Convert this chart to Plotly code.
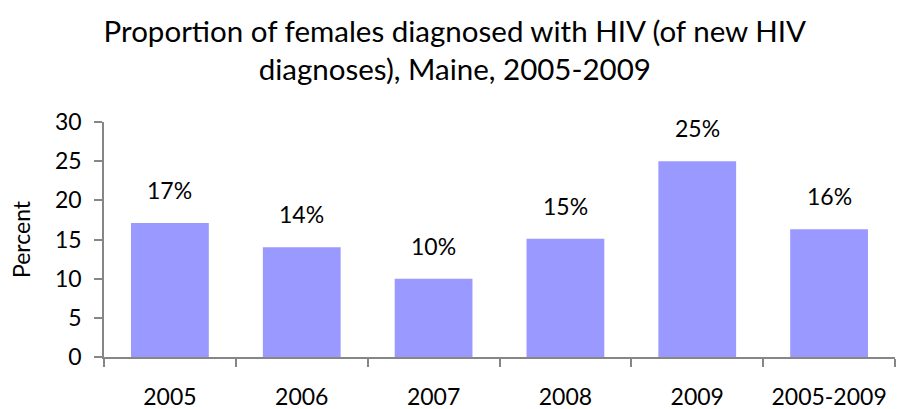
import plotly.graph_objects as go

categories = ["2005", "2006", "2007", "2008", "2009", "2005-2009"]
values = [17.1, 14.0, 10.0, 15.1, 25.0, 16.3]
labels = ["17%", "14%", "10%", "15%", "25%", "16%"]
y_ticks = [0, 5, 10, 15, 20, 25, 30]

FONT = "Lato, Open Sans, sans-serif"

fig = go.Figure()
fig.add_trace(go.Bar(x=categories, y=values, marker=dict(color="#9999FF", line=dict(width=0)),
                     showlegend=False, hoverinfo="x+y"))

for i, (v, t) in enumerate(zip(values, labels)):
    fig.add_annotation(x=i, y=v, xref="x", yref="y", text=t, showarrow=False, yshift=33,
                       font=dict(family=FONT, size=23, color="#000000"))

fig.update_layout(
    width=897, height=409,
    margin=dict(l=104, r=2, t=122, b=52, autoexpand=False),
    paper_bgcolor="white", plot_bgcolor="white",
    bargap=0.41,
    title=dict(text="Proportion of females diagnosed with HIV (of new HIV<br>diagnoses), Maine, 2005-2009",
               x=0.507, xanchor="center", y=0.897, yanchor="middle",
               font=dict(family=FONT, size=29.5, color="#000000")),
    xaxis=dict(type="category", showline=True, linecolor="#868686", linewidth=1.5, ticks="outside",
               tickson="boundaries", ticklen=8, tickcolor="#868686", tickwidth=1.5,
               tickfont=dict(family=FONT, size=23, color="#000000"), showgrid=False,
               tickangle=0, ticklabelstandoff=19, automargin=False),
    yaxis=dict(range=[0, 30], tickvals=y_ticks, showline=True, linecolor="#868686", linewidth=1.5,
               ticks="outside", ticklen=8, tickcolor="#868686", tickwidth=1.5,
               tickfont=dict(family=FONT, size=23, color="#000000"), showgrid=False,
               zeroline=False, ticklabelstandoff=8, automargin=False,
               title=dict(text="Percent", font=dict(family=FONT, size=23, color="#000000"), standoff=18)),
)

fig.write_html("out.html", config={"displayModeBar": False},
               post_script="document.body.style.margin='0px';")
